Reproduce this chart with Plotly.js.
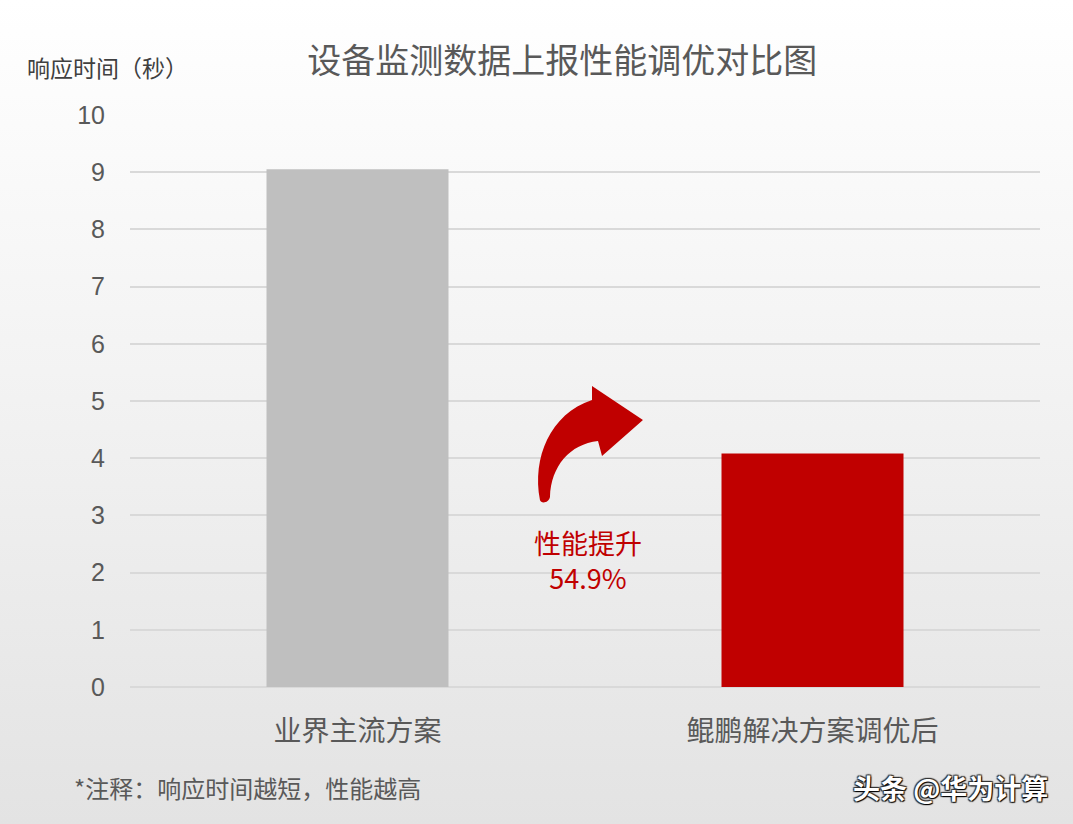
<!DOCTYPE html>
<html>
<head>
<meta charset="utf-8">
<script src="https://cdn.plot.ly/plotly-3.0.1.min.js"></script>
<style>
  html, body { margin: 0; padding: 0; }
  #chart { width: 1073px; height: 824px; background: linear-gradient(#ffffff 0%, #f3f3f3 45%, #e3e3e3 100%); }
</style>
</head>
<body>
<div id="chart"></div>
<script>
const categories = ["业界主流方案", "鲲鹏解决方案调优后"];
const responseTimes = [9.05, 4.08];
const barColors = ["#BFBFBF", "#C00000"];
const yTicks = [0, 1, 2, 3, 4, 5, 6, 7, 8, 9, 10];
const improvement = (1 - responseTimes[1] / responseTimes[0]) * 100;

const W = 1073, H = 824;
const margin = { l: 130, r: 33, t: 115, b: 137 };
const font = '"Noto Sans CJK SC", "Microsoft YaHei", sans-serif';
const gray = "#595959";

// pixel -> paper helper for the decorative arrow
const pw = W - margin.l - margin.r, ph = H - margin.t - margin.b;
function P(x, y) {
  return ((x - margin.l) / pw).toFixed(4) + " " + ((H - margin.b - y) / ph).toFixed(4);
}
const arrowPath = "M " + P(540, 500) +
  " C " + P(532, 458) + ", " + P(550, 414) + ", " + P(592, 400) +
  " L " + P(592, 386) +
  " L " + P(643, 420) +
  " L " + P(602, 456) +
  " L " + P(598, 441) +
  " C " + P(570, 444) + ", " + P(551, 466) + ", " + P(550, 497) +
  " C " + P(549, 503) + ", " + P(541, 504) + ", " + P(540, 500) + " Z";

Plotly.newPlot("chart", [{
  type: "bar",
  x: categories,
  y: responseTimes,
  width: 0.4,
  marker: { color: barColors, line: { width: 0 } },
  hoverinfo: "x+y"
}], {
  width: W,
  height: H,
  margin: margin,
  paper_bgcolor: "rgba(0,0,0,0)",
  plot_bgcolor: "rgba(0,0,0,0)",
  showlegend: false,
  font: { family: font, color: gray },
  title: {
    text: "设备监测数据上报性能调优对比图",
    font: { size: 34, color: gray, family: font },
    x: 0.524, xanchor: "center",
    y: 0.926, yanchor: "middle"
  },
  xaxis: {
    showgrid: false,
    zeroline: false,
    showline: false,
    ticks: "",
    ticklabelstandoff: 25,
    tickfont: { size: 28, color: gray, family: font }
  },
  yaxis: {
    range: [0, 10],
    tickvals: yTicks,
    showgrid: true,
    gridcolor: "#D9D9D9",
    gridwidth: 1.5,
    zeroline: true,
    zerolinecolor: "#D9D9D9",
    zerolinewidth: 1.5,
    showline: false,
    ticks: "",
    ticklabelstandoff: 24,
    tickfont: { size: 25, color: gray, family: '"Liberation Sans", Arial, sans-serif' }
  },
  shapes: [{
    type: "path",
    xref: "paper", yref: "paper",
    path: arrowPath,
    fillcolor: "#C00000",
    line: { width: 0 }
  }],
  annotations: [
    {
      text: "响应时间（秒）",
      xref: "paper", yref: "paper",
      x: (107 - margin.l) / pw, y: (H - margin.b - 67) / ph,
      xanchor: "center", yanchor: "middle",
      showarrow: false,
      font: { size: 23, color: "#404040", family: font }
    },
    {
      text: "性能提升<br>" + improvement.toFixed(1) + "%",
      xref: "paper", yref: "paper",
      x: (588 - margin.l) / pw, y: (H - margin.b - 560) / ph,
      xanchor: "center", yanchor: "middle",
      showarrow: false,
      align: "center",
      font: { size: 27, color: "#C00000", family: font }
    },
    {
      text: "*注释：响应时间越短，性能越高",
      xref: "paper", yref: "paper",
      x: (72 - margin.l) / pw, y: (H - margin.b - 787) / ph,
      xanchor: "left", yanchor: "middle",
      showarrow: false,
      font: { size: 24, color: gray, family: font }
    },
    {
      text: "头条 @华为计算",
      xref: "paper", yref: "paper",
      x: (1050 - margin.l) / pw, y: (H - margin.b - 787) / ph,
      xanchor: "right", yanchor: "middle",
      showarrow: false,
      font: { size: 27, color: "#ffffff", weight: 700, family: font, shadow: "1px 1px 1px #000, -1px -1px 1px #333, 1px -1px 1px #333, -1px 1px 1px #333" }
    }
  ]
}, { displayModeBar: false });
</script>
</body>
</html>
